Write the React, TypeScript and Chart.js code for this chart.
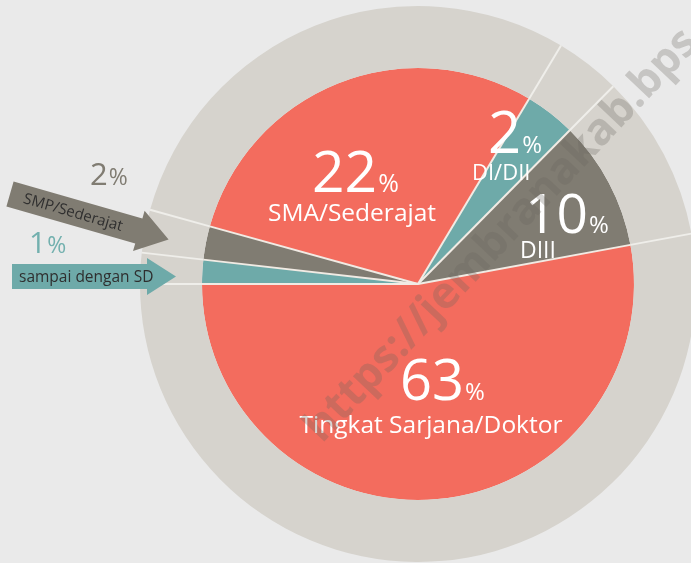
import React, { useEffect, useRef } from "react";
import { Chart, registerables } from "chart.js";

Chart.register(...registerables);

// Categories in clockwise order, starting from the left horizontal
const categories = ["sampai dengan SD", "SMP/Sederajat", "SMA/Sederajat", "DI/DII", "DIII", "Tingkat Sarjana/Doktor"];
// Percentages printed on the chart
const printedPercents = ["1", "2", "22", "2", "10", "63"];
// Share of the circle each slice occupies as drawn in the picture (%)
const sliceShares = [1.8, 2.5, 29.3, 3.8, 9.7, 52.9];
const sliceColors = ["#6eaaa9", "#807c72", "#f36c5e", "#6eaaa9", "#807c72", "#f36c5e"];
const ringColor = "#d6d3cd";
const watermarkText = "https://jembranakab.bps";

const FONT = '"Open Sans", "Noto Sans", sans-serif';

function drawPercent(ctx: CanvasRenderingContext2D, num: string, x: number, y: number, big: number, small: number, color: string) {
  ctx.fillStyle = color;
  ctx.textAlign = "left";
  ctx.textBaseline = "alphabetic";
  ctx.font = `400 ${big}px ${FONT}`;
  ctx.fillText(num, x, y);
  const w = ctx.measureText(num).width;
  ctx.font = `400 ${small}px ${FONT}`;
  ctx.fillText("%", x + w + 1, y);
}

function drawText(ctx: CanvasRenderingContext2D, t: string, x: number, y: number, size: number, color: string, align: CanvasTextAlign = "left") {
  ctx.fillStyle = color;
  ctx.textAlign = align;
  ctx.textBaseline = "alphabetic";
  ctx.font = `400 ${size}px ${FONT}`;
  ctx.fillText(t, x, y);
}

const separatorPlugin = {
  id: "separators",
  afterDatasetsDraw(chart: any) {
    const ctx = chart.ctx as CanvasRenderingContext2D;
    chart.data.datasets.forEach((_: any, di: number) => {
      const meta = chart.getDatasetMeta(di);
      ctx.save();
      ctx.strokeStyle = di === 0 ? "#efeeea" : "#f1ebe4";
      ctx.lineWidth = 2;
      meta.data.forEach((el: any) => {
        const p = el.getProps(["x", "y", "startAngle", "innerRadius", "outerRadius"], true);
        const c = Math.cos(p.startAngle), s = Math.sin(p.startAngle);
        ctx.beginPath();
        ctx.moveTo(p.x + c * p.innerRadius, p.y + s * p.innerRadius);
        ctx.lineTo(p.x + c * p.outerRadius, p.y + s * p.outerRadius);
        ctx.stroke();
      });
      ctx.restore();
    });
  },
};

function arrow(ctx: CanvasRenderingContext2D, ox: number, oy: number, angDeg: number, bodyLen: number, bodyHalf: number, headHalf: number, headLen: number, color: string) {
  ctx.save();
  ctx.translate(ox, oy);
  ctx.rotate((angDeg * Math.PI) / 180);
  ctx.fillStyle = color;
  ctx.beginPath();
  ctx.moveTo(0, -bodyHalf);
  ctx.lineTo(bodyLen, -bodyHalf);
  ctx.lineTo(bodyLen, -headHalf);
  ctx.lineTo(bodyLen + headLen, 0);
  ctx.lineTo(bodyLen, headHalf);
  ctx.lineTo(bodyLen, bodyHalf);
  ctx.lineTo(0, bodyHalf);
  ctx.closePath();
  ctx.fill();
  ctx.restore();
}

const labelPlugin = {
  id: "labels",
  afterDraw(chart: any) {
    const ctx = chart.ctx as CanvasRenderingContext2D;
    ctx.save();
    const white = "#ffffff";
    // inside labels
    drawPercent(ctx, printedPercents[2], 312, 192, 57, 25, white);
    drawText(ctx, categories[2], 352, 221, 24.5, white, "center");
    drawPercent(ctx, printedPercents[3], 488, 153, 58, 24, white);
    drawText(ctx, "DI/DII", 472, 180, 22, white);
    drawPercent(ctx, printedPercents[4], 525, 233, 55, 24, white);
    drawText(ctx, categories[4], 520, 258, 23, white);
    drawPercent(ctx, printedPercents[5], 400, 400, 56, 24, white);
    drawText(ctx, categories[5], 431, 433, 24.5, white, "center");

    // arrows
    arrow(ctx, 10, 194, 16, 134, 13, 21, 31, "#807c72");
    arrow(ctx, 12, 276.5, 0, 135, 12.5, 18.5, 29, "#6eaaa9");

    // arrow texts
    ctx.save();
    ctx.translate(24, 198);
    ctx.rotate((16 * Math.PI) / 180);
    drawText(ctx, categories[1], 0, 5, 15, "#2f2f2f");
    ctx.restore();
    drawText(ctx, categories[0], 19, 282, 15.5, "#2f2f2f");

    // outside percents
    drawPercent(ctx, printedPercents[1], 90, 185, 31, 23, "#807c72");
    drawPercent(ctx, printedPercents[0], 29, 253, 30, 23, "#72b0ae");

    // watermark
    ctx.save();
    ctx.translate(322, 444);
    ctx.rotate((-46.6 * Math.PI) / 180);
    ctx.fillStyle = "rgba(105,100,95,0.28)";
    ctx.font = `700 44px ${FONT}`;
    ctx.textAlign = "left";
    ctx.textBaseline = "alphabetic";
    ctx.fillText(watermarkText, 0, 0);
    ctx.restore();

    ctx.restore();
  },
};

export default function App() {
  const ref = useRef<HTMLCanvasElement | null>(null);
  useEffect(() => {
    if (!ref.current) return;
    const chart = new Chart(ref.current, {
      type: "pie",
      data: {
        labels: categories,
        datasets: [
          {
            data: sliceShares,
            backgroundColor: sliceShares.map(() => ringColor),
            borderWidth: 0,
            weight: 62,
          },
          {
            data: sliceShares,
            backgroundColor: sliceColors,
            borderWidth: 0,
            weight: 216,
          },
        ],
      },
      options: {
        responsive: false,
        animation: false,
        devicePixelRatio: 1,
        rotation: 270,
        layout: { padding: { left: 140, top: 6, right: 24, bottom: 1 } },
        plugins: { legend: { display: false }, tooltip: { enabled: false } },
        events: [],
      },
      plugins: [separatorPlugin, labelPlugin],
    });
    return () => chart.destroy();
  }, []);
  return (
    <div style={{ position: "fixed", left: 0, top: 0, width: 691, height: 563, overflow: "hidden", background: "#eaeaea" }}>
      <canvas ref={ref} width={720} height={563} style={{ display: "block", width: 720, height: 563 }} />
    </div>
  );
}
